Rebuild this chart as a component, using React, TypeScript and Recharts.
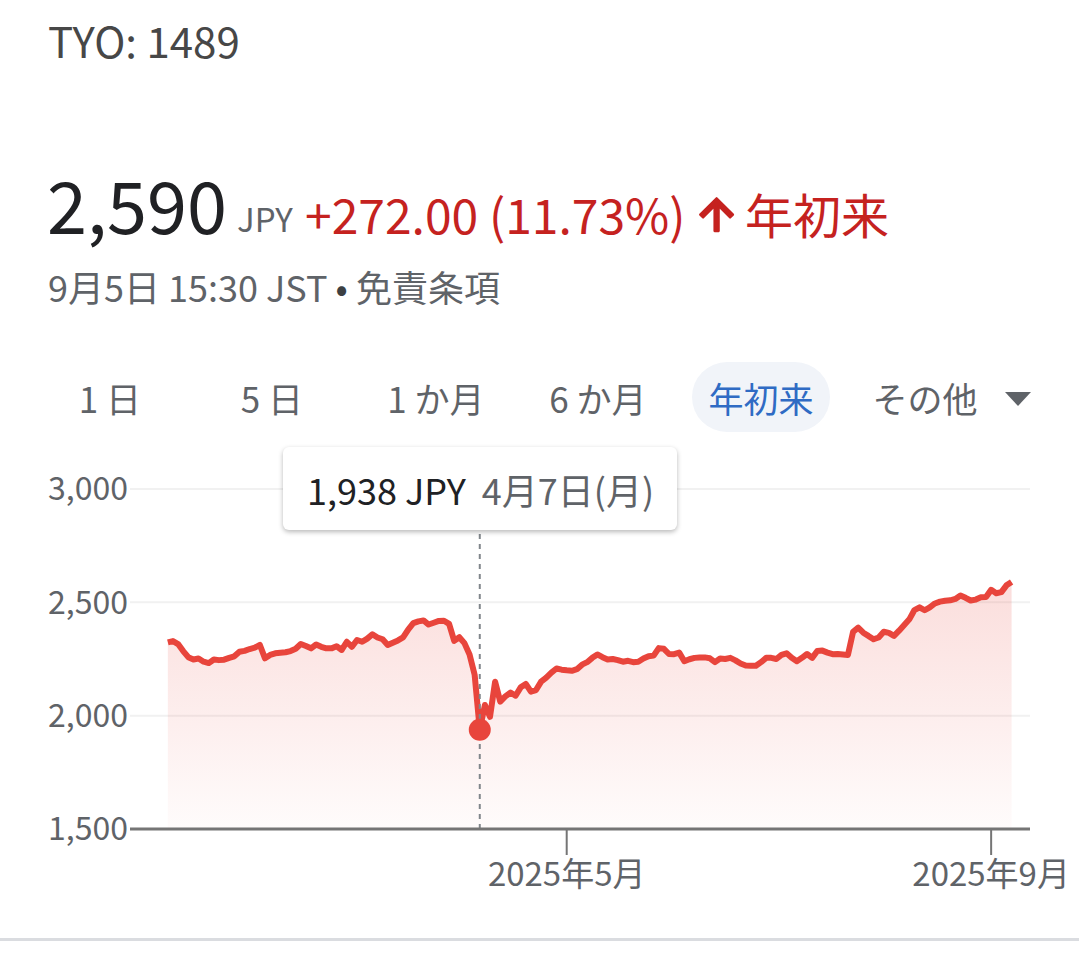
import React from 'react';
import { AreaChart, Area, XAxis, YAxis, CartesianGrid, ReferenceLine, ReferenceDot } from 'recharts';

// TYO: 1489 year-to-date chart (closing price per trading day)

const FONT = '"Noto Sans CJK JP", "Noto Sans", sans-serif';
const LINE_RED = '#e8453c';
const TEXT_RED = '#c5221f';
const GREY = '#5f6368';

// one close per trading day, 2025/1/6 .. 2025/9/5
const closes = [
    2323, 2329, 2316, 2285, 2258, 2248, 2252, 2238, 2232, 2248,
    2245, 2247, 2255, 2262, 2282, 2286, 2294, 2300, 2312, 2253,
    2268, 2275, 2278, 2280, 2285, 2295, 2316, 2307, 2297, 2314,
    2304, 2297, 2297, 2306, 2290, 2326, 2304, 2334, 2326, 2340,
    2359, 2345, 2337, 2312, 2322, 2332, 2345, 2380, 2408, 2416,
    2420, 2402, 2410, 2418, 2419, 2405, 2330, 2346, 2320, 2270,
    2180, 1938, 2047, 1995, 2150, 2062, 2085, 2102, 2088, 2125,
    2140, 2106, 2113, 2150, 2168, 2190, 2208, 2203, 2200, 2198,
    2205, 2225, 2236, 2255, 2270, 2258, 2248, 2250, 2245, 2238,
    2242, 2236, 2238, 2252, 2262, 2265, 2298, 2295, 2272, 2271,
    2278, 2240, 2249, 2255, 2257, 2257, 2253, 2236, 2252, 2250,
    2255, 2244, 2230, 2221, 2220, 2220, 2236, 2255, 2255, 2250,
    2268, 2275, 2255, 2240, 2255, 2272, 2255, 2285, 2287, 2278,
    2271, 2272, 2270, 2268, 2370, 2388, 2366, 2352, 2337, 2345,
    2370, 2365, 2352, 2375, 2400, 2425, 2466, 2478, 2465, 2478,
    2495, 2503, 2507, 2509, 2515, 2530, 2520, 2508, 2512, 2522,
    2524, 2555, 2540, 2545, 2575, 2590,
];

const yTicks = [1500, 2000, 2500, 3000];
const monthTickIdx = [78, 161]; // first trading day of May / Sep
const monthTickLabels = ['2025年5月', '2025年9月'];

const hoverIdx = 61;
const hoverDate = '4月7日(月)';

const tabs = ['1 日', '5 日', '1 か月', '6 か月', '年初来', 'その他'];
const tabCenters = [110, 272, 436, 598, 761, 925];
const activeTab = 4;

const data = closes.map((v, i) => ({ i, v }));

const fmt = (n: number) => n.toLocaleString('en-US');

const Header = () => (
    <svg width={1079} height={440} style={{ position: 'absolute', left: 0, top: 0 }} fontFamily={FONT}>
        <text x={48} y={58} fontSize={42} fill="#474747">TYO: 1489</text>

        <text x={47} y={234} fontSize={72} fill="#202124">2,590</text>
        <text x={237} y={232} fontSize={33} fill={GREY}>JPY</text>
        <text x={305} y={234} fontSize={48} fill={TEXT_RED}>+272.00 (11.73%)</text>
        <path
            d="M4 12l1.41 1.41L11 7.83V20h2V7.83l5.58 5.59L20 12l-8-8-8 8z"
            transform="translate(692,190) scale(2.05)"
            fill={TEXT_RED}
            stroke={TEXT_RED}
            strokeWidth={1.1}
            strokeLinejoin="round"
        />
        <text x={745} y={234} fontSize={48} fill={TEXT_RED}>年初来</text>

        <text x={48} y={302} fontSize={36} fill={GREY}>
            9月5日 15:30 JST <tspan fill="#3c4043">•</tspan> 免責条項
        </text>

        <rect x={692} y={362} width={138} height={70} rx={35} fill="#f1f4f9" />
        {tabs.map((t, k) => (
            <text
                key={t}
                x={tabCenters[k]}
                y={413}
                fontSize={35}
                textAnchor="middle"
                fill={k === activeTab ? '#2f6bc4' : GREY}
            >
                {t}
            </text>
        ))}
        <polygon points="1005,392 1031,392 1018,406" fill={GREY} />
    </svg>
);

export default function App() {
    return (
        <div
            style={{
                position: 'absolute',
                left: 0,
                top: 0,
                width: 1079,
                height: 959,
                background: '#fff',
                overflow: 'hidden',
                fontFamily: FONT,
            }}
        >
            <Header />

            <div style={{ position: 'absolute', left: 0, top: 440 }}>
                <AreaChart width={1079} height={500} data={data} margin={{ top: 49, right: 49, bottom: 31, left: 0 }}>
                    <defs>
                        <linearGradient id="ytdFill" x1="0" y1="0" x2="0" y2="1">
                            <stop offset="0%" stopColor={LINE_RED} stopOpacity={0.3} />
                            <stop offset="100%" stopColor={LINE_RED} stopOpacity={0.03} />
                        </linearGradient>
                    </defs>
                    <CartesianGrid vertical={false} stroke="#f1f1f1" strokeWidth={2} />
                    <XAxis
                        type="number"
                        dataKey="i"
                        domain={[-7.4, 168.6]}
                        ticks={monthTickIdx}
                        interval={0}
                        tickFormatter={(v: number) => monthTickLabels[monthTickIdx.indexOf(v)]}
                        axisLine={{ stroke: '#757575', strokeWidth: 3 }}
                        tickLine={{ stroke: '#757575', strokeWidth: 2 }}
                        tickSize={26}
                        tickMargin={8}
                        height={80}
                        tick={{ fill: GREY, fontSize: 33, fontFamily: FONT }}
                    />
                    <YAxis
                        domain={[1500, 3000]}
                        ticks={yTicks}
                        interval={0}
                        width={130}
                        axisLine={false}
                        tickLine={false}
                        tickSize={0}
                        tickMargin={2}
                        tickFormatter={fmt}
                        tick={{ fill: GREY, fontSize: 32, fontFamily: FONT }}
                    />
                    <Area
                        type="linear"
                        dataKey="v"
                        stroke={LINE_RED}
                        strokeWidth={6}
                        strokeLinejoin="round"
                        fill="url(#ytdFill)"
                        dot={false}
                        activeDot={false}
                        isAnimationActive={false}
                    />
                    <ReferenceLine x={hoverIdx} stroke="#80868b" strokeWidth={2} strokeDasharray="5 5" />
                    <ReferenceDot x={hoverIdx} y={closes[hoverIdx]} r={11} fill={LINE_RED} stroke="none" />
                </AreaChart>
            </div>

            <div
                style={{
                    position: 'absolute',
                    left: 283,
                    top: 447,
                    width: 394,
                    height: 83,
                    boxSizing: 'border-box',
                    background: '#fff',
                    borderRadius: 6,
                    boxShadow: '0 2px 5px rgba(0,0,0,0.28)',
                    display: 'flex',
                    alignItems: 'center',
                    padding: '0 24px',
                    gap: 16,
                    fontSize: 36,
                    whiteSpace: 'nowrap',
                }}
            >
                <span style={{ color: '#202124' }}>{fmt(closes[hoverIdx])} JPY</span>
                <span style={{ color: GREY }}>{hoverDate}</span>
            </div>

            <div style={{ position: 'absolute', left: 0, top: 938, width: 1079, height: 3, background: '#dadce0' }} />
        </div>
    );
}
